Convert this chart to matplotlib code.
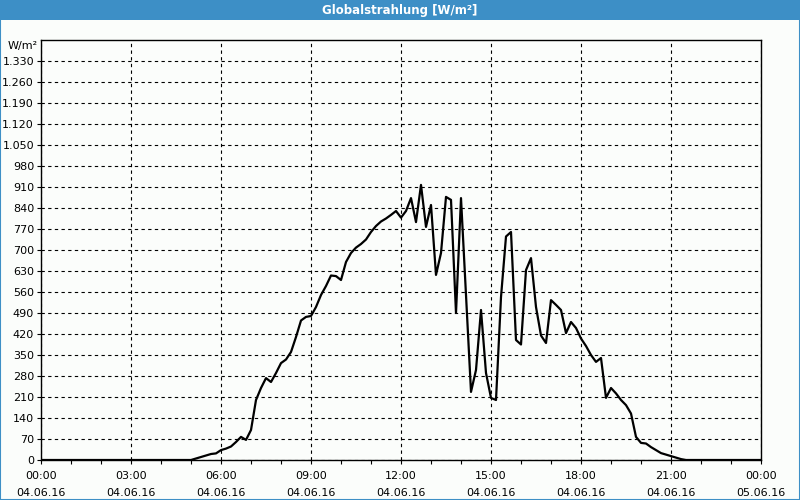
import numpy as np
import matplotlib
matplotlib.use('Agg')
from matplotlib import pyplot as plt
from matplotlib.patches import Rectangle

# 10-minute samples, 04.06.16 00:00 .. 05.06.16 00:00
hours = np.arange(145) / 6.0
night_am = [0] * 30
day = [0, 5, 10, 15, 20, 22, 33, 38, 45, 60,
       77, 67, 100, 200, 240, 273, 260, 290, 323, 335,
       360, 410, 465, 477, 480, 510, 550, 580, 615, 613,
       600, 660, 690, 708, 720, 735, 760, 780, 795, 805,
       817, 830, 808, 830, 873, 793, 917, 777, 850, 617,
       690, 877, 867, 490, 873, 550, 227, 300, 500, 290,
       207, 200, 543, 745, 760, 400, 385, 633, 673, 510,
       415, 390, 533, 517, 500, 423, 460, 440, 405, 380,
       350, 327, 340, 207, 240, 222, 200, 183, 155, 77,
       57, 55, 43, 33, 23, 18, 13, 8, 3, 0]
night_pm = [0] * 15
radiation = night_am + day + night_pm

yticks = list(range(0, 1400, 70))
xticks = list(range(0, 25, 3))
xlabels = ['00:00\n04.06.16', '03:00\n04.06.16', '06:00\n04.06.16', '09:00\n04.06.16',
           '12:00\n04.06.16', '15:00\n04.06.16', '18:00\n04.06.16', '21:00\n04.06.16',
           '00:00\n05.06.16']

blue = '#3d8fc6'
fig = plt.figure(figsize=(8, 5), dpi=100, facecolor='#fbfdfb')

# title bar and frame
fig.patches.append(Rectangle((0, 0.96), 1, 0.04, transform=fig.transFigure,
                             facecolor=blue, edgecolor='none', zorder=0))
fig.patches.append(Rectangle((0.0006, 0.001), 0.9988, 0.998, transform=fig.transFigure,
                             facecolor='none', edgecolor=blue, linewidth=1.5, zorder=0))
fig.text(0.5, 0.979, 'Globalstrahlung [W/m²]', color='white', fontsize=8.5,
         fontweight='bold', ha='center', va='center')

ax = fig.add_axes([0.05125, 0.08, 0.9, 0.84])
ax.set_facecolor('#fbfdfb')
ax.plot(hours, radiation, color='black', linewidth=1.6)

ax.set_xlim(0, 24)
ax.set_ylim(0, 1400)
ax.set_yticks(yticks)
ax.set_yticklabels([f'{v:,}'.replace(',', '.') for v in yticks], fontsize=8)
ax.set_xticks(xticks)
ax.set_xticklabels(xlabels, fontsize=8, linespacing=1.8)
ax.set_xticks(range(25), minor=True)
ax.tick_params(axis='both', which='both', length=3, width=0.8, pad=2)
ax.tick_params(axis='x', which='major', pad=5)
ax.text(-0.005, 1380, 'W/m²', transform=ax.get_yaxis_transform(), fontsize=8,
        ha='right', va='center')

ax.grid(True, which='major', color='black', linestyle=(0, (3, 3)), linewidth=0.8)
for s in ax.spines.values():
    s.set_color('black')
    s.set_linewidth(1.0)

plt.savefig('out.png', dpi=100, facecolor=fig.get_facecolor())
